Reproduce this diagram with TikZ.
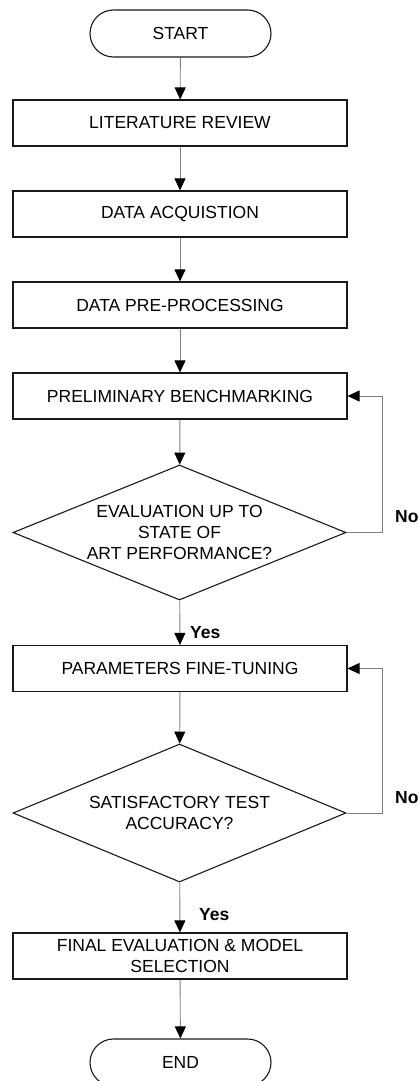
\documentclass[tikz,border=0pt]{standalone}
\usepackage{fontspec}
\setmainfont{Liberation Sans}
\usetikzlibrary{shapes.geometric,shapes.misc,arrows.meta}
\begin{document}
\begin{tikzpicture}[x=1pt,y=-1pt,
  every node/.style={font=\fontsize{17.5}{21}\selectfont},
  term/.style={draw=black!90, line width=1.1pt, rounded rectangle, minimum width=181pt, minimum height=47pt, inner sep=0pt},
  proc/.style={draw=black!90, line width=1.1pt, rectangle, minimum width=334pt, minimum height=46pt, inner sep=0pt, align=center},
  dec/.style={draw=black!90, line width=1.1pt, diamond, minimum width=333pt, minimum height=136pt, inner sep=0pt, align=center, shape aspect=2.45},
  conn/.style={draw=black!50, line width=0.9pt, -{Triangle[length=12pt,width=11pt,color=black]}},
  lbl/.style={font=\fontsize{17.5}{21}\selectfont\bfseries, inner sep=0pt, anchor=west}
]
\useasboundingbox (0,0) rectangle (418,1081);
\node[term] (start) at (180.5,33.5) {START};
\node[proc] (lit) at (180,123) {LITERATURE REVIEW};
\node[proc] (acq) at (180,214) {DATA ACQUISTION};
\node[proc] (pre) at (180,305) {DATA PRE-PROCESSING};
\node[proc] (bench) at (180,396) {PRELIMINARY BENCHMARKING};
\node[dec, minimum height=135pt] (eval) at (179.5,532.5) {EVALUATION UP TO\\STATE OF\\ART PERFORMANCE?};
\node[proc] (tune) at (180,668.5) {PARAMETERS FINE-TUNING};
\node[dec, minimum height=138pt] (acc) at (179.5,813) {SATISFACTORY TEST\\ACCURACY?};
\node[proc] (final) at (180,956) {FINAL EVALUATION \& MODEL\\SELECTION};
\node[term] (end) at (180.5,1062.5) {END};
\coordinate (rail) at (382,0);

\draw[conn] (start) -- (lit);
\draw[conn] (lit) -- (acq);
\draw[conn] (acq) -- (pre);
\draw[conn] (pre) -- (bench);
\draw[conn] (bench) -- (eval);
\draw[conn] (eval) -- (tune);
\draw[conn] (tune) -- (acc);
\draw[conn] (acc) -- (final);
\draw[conn] (final) -- (end);
\draw[conn] (eval.east) -- (eval.east -| rail) |- (bench.east);
\draw[conn] (acc.east) -- (acc.east -| rail) |- (tune.east);

\node[lbl] (no1) at (395,517) {No};
\node[lbl] (no2) at (395,798) {No};
\node[lbl] (yes1) at (190,633) {Yes};
\node[lbl] (yes2) at (199,915) {Yes};
\end{tikzpicture}
\end{document}
